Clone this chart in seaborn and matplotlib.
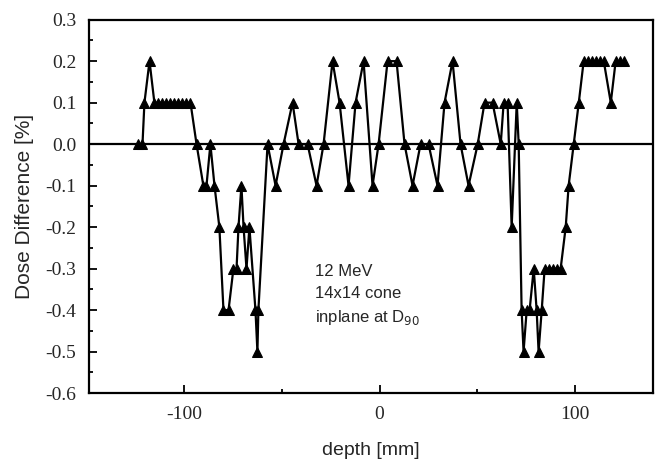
import numpy as np
import pandas as pd
import matplotlib
matplotlib.use('Agg')
import matplotlib.pyplot as plt
import seaborn as sns
from matplotlib.ticker import MultipleLocator, FormatStrFormatter

# depth positions [mm]
depth = [-123.6, -121.5, -120.5, -117.9, -115.4, -113.3, -111.3, -109.2, -107.2, -105.1,
         -103.1, -101.0, -99.0, -96.9, -93.8, -90.3, -88.7, -86.7, -84.6, -82.1,
         -80.0, -77.4, -74.9, -73.3, -72.3, -70.8, -69.7, -68.2, -66.7, -63.6,
         -62.6, -62.1, -57.4, -53.3, -49.2, -44.6, -41.5, -36.9, -32.3, -28.7,
         -24.1, -20.5, -15.9, -12.3, -8.2, -3.6, -0.5, 4.1, 8.7, 12.8,
         16.9, 21.0, 25.1, 29.7, 33.3, 37.4, 41.5, 45.6, 50.3, 53.8,
         57.9, 62.1, 63.6, 65.6, 67.7, 70.3, 71.3, 72.8, 73.8, 75.4,
         76.9, 79.0, 80.5, 81.5, 83.1, 84.6, 86.7, 88.7, 90.8, 92.8,
         95.4, 96.9, 99.5, 102.1, 104.6, 106.7, 108.7, 110.8, 112.8, 114.9,
         118.5, 121.0, 123.1, 125.1]

# dose difference [%]
dose_diff = [0.0, 0.0, 0.1, 0.2, 0.1, 0.1, 0.1, 0.1, 0.1, 0.1,
             0.1, 0.1, 0.1, 0.1, 0.0, -0.1, -0.1, 0.0, -0.1, -0.2,
             -0.4, -0.4, -0.3, -0.3, -0.2, -0.1, -0.2, -0.3, -0.2, -0.4,
             -0.5, -0.4, 0.0, -0.1, 0.0, 0.1, 0.0, 0.0, -0.1, 0.0,
             0.2, 0.1, -0.1, 0.1, 0.2, -0.1, 0.0, 0.2, 0.2, 0.0,
             -0.1, 0.0, 0.0, -0.1, 0.1, 0.2, 0.0, -0.1, 0.0, 0.1,
             0.1, 0.0, 0.1, 0.1, -0.2, 0.1, 0.0, -0.4, -0.5, -0.4,
             -0.4, -0.3, -0.4, -0.5, -0.4, -0.3, -0.3, -0.3, -0.3, -0.3,
             -0.2, -0.1, 0.0, 0.1, 0.2, 0.2, 0.2, 0.2, 0.2, 0.2,
             0.1, 0.2, 0.2, 0.2]

df = pd.DataFrame({'depth': depth, 'diff': dose_diff})

sns.set_style('ticks')
plt.rcParams['axes.unicode_minus'] = False

fig = plt.figure(figsize=(6.58, 4.68), dpi=100)
ax = fig.add_axes([0.135, 0.160, 0.857, 0.798])

ax.axhline(0, color='black', lw=1.6, zorder=1)
sns.lineplot(data=df, x='depth', y='diff', estimator=None, sort=False,
             color='black', lw=1.6, marker='^', markersize=7,
             markeredgecolor='black', ax=ax, zorder=2)

ax.set_xlim(-149, 140)
ax.set_ylim(-0.6, 0.3)
ax.xaxis.set_major_locator(MultipleLocator(100))
ax.xaxis.set_minor_locator(MultipleLocator(50))
ax.yaxis.set_major_locator(MultipleLocator(0.1))
ax.yaxis.set_minor_locator(MultipleLocator(0.05))
ax.yaxis.set_major_formatter(FormatStrFormatter('%.1f'))
ax.tick_params(which='both', direction='in', color='black', width=1.3)
ax.tick_params(which='major', length=6, pad=9)
ax.tick_params(which='minor', length=3)
for lab in ax.get_xticklabels() + ax.get_yticklabels():
    lab.set_family('Liberation Serif')
    lab.set_fontsize(14)
for s in ax.spines.values():
    s.set_linewidth(1.6)
    s.set_color('black')

ax.set_xlabel('depth [mm]', family='Liberation Sans', fontsize=14, labelpad=14)
ax.set_ylabel('Dose Difference [%]', family='Liberation Sans', fontsize=15, labelpad=8)

ax.text(-33, -0.365, '12 MeV\n14x14 cone\ninplane at D$_{90}$', family='Liberation Sans',
        fontsize=12, va='center', ha='left', linespacing=1.55)

fig.savefig('out.png', dpi=100)
